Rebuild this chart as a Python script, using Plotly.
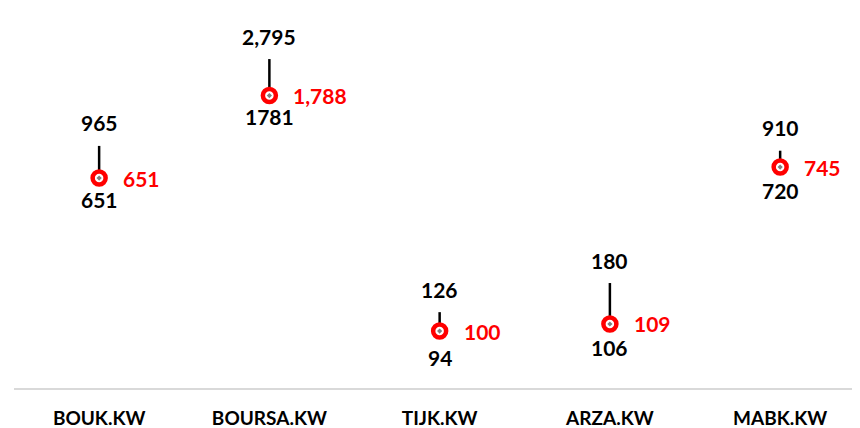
import numpy as np
import plotly.graph_objects as go

categories = ["BOUK.KW", "BOURSA.KW", "TIJK.KW", "ARZA.KW", "MABK.KW"]
high = [965, 2795, 126, 180, 910]
low = [651, 1781, 94, 106, 720]
close = [651, 1788, 100, 109, 745]

FONT = "Lato"
fig = go.Figure()

# high-low lines
for c, h, l in zip(categories, high, low):
    fig.add_trace(go.Scatter(x=[c, c], y=[l, h], mode="lines",
                             line=dict(color="black", width=2.5),
                             showlegend=False, hoverinfo="skip"))

# close markers
fig.add_trace(go.Scatter(x=categories, y=close, mode="markers",
                         marker=dict(symbol="circle", size=13, color="white",
                                     line=dict(color="#ff0000", width=4.5)),
                         showlegend=False))
fig.add_trace(go.Scatter(x=categories, y=close, mode="markers",
                         marker=dict(symbol="diamond", size=4, color="#7f7f7f"),
                         showlegend=False, hoverinfo="skip"))

for c, h, l, cl in zip(categories, high, low, close):
    fig.add_annotation(x=c, y=np.log10(h), text=f"{h:,}", showarrow=False,
                       yshift=23, font=dict(family=FONT, size=21, color="black", weight="bold"))
    fig.add_annotation(x=c, y=np.log10(l), text=f"{l}", showarrow=False,
                       yshift=-21, font=dict(family=FONT, size=21, color="black", weight="bold"))
    fig.add_annotation(x=c, y=np.log10(cl), text=f"{cl:,}", showarrow=False,
                       xanchor="left", xshift=22,
                       font=dict(family=FONT, size=21, color="#ff0000", weight="bold"))

fig.update_layout(
    width=852, height=420,
    margin=dict(l=6, r=0, t=0, b=40, autoexpand=False),
    plot_bgcolor="white", paper_bgcolor="white",
    xaxis=dict(showline=True, linecolor="#d9d9d9", linewidth=1.5,
               range=[-0.5, 4.469], automargin=False,
               ticks="outside", ticklen=12, tickcolor="rgba(0,0,0,0)",
               showgrid=False, zeroline=False,
               tickfont=dict(family=FONT, size=19, color="black", weight="bold")),
    yaxis=dict(type="log", range=[1.697, 3.718], visible=False,
               showgrid=False, zeroline=False),
)

fig.write_html("out.html")
